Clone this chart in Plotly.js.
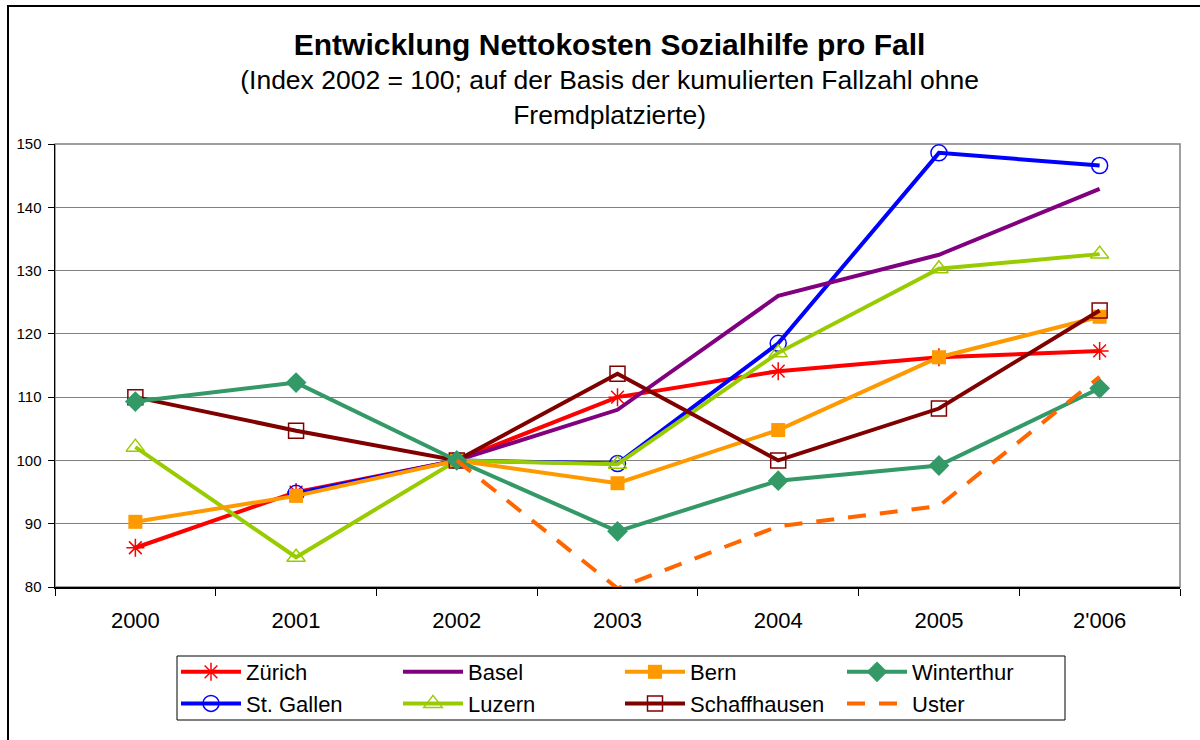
<!DOCTYPE html>
<html>
<head>
<meta charset="utf-8">
<script src="https://cdn.plot.ly/plotly-3.0.1.min.js"></script>
<style>
  html, body { margin: 0; padding: 0; background: #ffffff; }
  #chart { width: 1200px; height: 740px; }
</style>
</head>
<body>
<div id="chart"></div>
<script>
// ---- data ----
const years = ['2000', '2001', '2002', '2003', '2004', '2005', "2'006"];
const zuerich      = [86.2, 95.0, 100, 110.0, 114.1, 116.3, 117.3];
const basel        = [null, null, 100, 108.0, 126.0, 132.5, 142.9];
const bern         = [90.3, 94.4, 100, 96.4, 104.8, 116.3, 122.7];
const winterthur   = [109.3, 112.3, 100, 88.8, 96.8, 99.2, 111.4];
const stGallen     = [null, 94.8, 100, 99.5, 118.5, 148.6, 146.6];
const luzern       = [102.1, 84.7, 100, 99.4, 117.0, 130.3, 132.6];
const schaffhausen = [110.0, 104.7, 100, 113.7, 100.0, 108.2, 123.7];
const uster        = [null, null, 100, 79.8, 89.6, 92.8, 113.2];

const seriesNames = ['Zürich', 'Basel', 'Bern', 'Winterthur', 'St. Gallen', 'Luzern', 'Schaffhausen', 'Uster'];
const yTicks = [80, 90, 100, 110, 120, 130, 140, 150];

const FONT = 'Arial, "Liberation Sans", sans-serif';

function line(name, y, color, opts) {
  return Object.assign({
    type: 'scatter',
    mode: 'lines+markers',
    name: name,
    x: years,
    y: y,
    connectgaps: false,
    line: { color: color, width: 4 },
    cliponaxis: true
  }, opts);
}

const traces = [
  line(seriesNames[0], zuerich, '#FF0000', {
    legend: 'legend',
    marker: { symbol: 'asterisk-open', size: 15, color: '#FF0000', line: { color: '#FF0000', width: 1.5 } }
  }),
  line(seriesNames[4], stGallen, '#0000FF', {
    legend: 'legend',
    marker: { symbol: 'circle-open', size: 16, color: '#0000FF', line: { color: '#0000FF', width: 1.5 } }
  }),
  line(seriesNames[1], basel, '#800080', {
    legend: 'legend2',
    mode: 'lines'
  }),
  line(seriesNames[5], luzern, '#99CC00', {
    legend: 'legend2',
    marker: { symbol: 'triangle-up-open', size: 16, color: '#99CC00', line: { color: '#99CC00', width: 1.5 } }
  }),
  line(seriesNames[2], bern, '#FF9900', {
    legend: 'legend3',
    marker: { symbol: 'square', size: 14, color: '#FF9900', line: { color: '#FF9900', width: 0 } }
  }),
  line(seriesNames[6], schaffhausen, '#800000', {
    legend: 'legend3',
    marker: { symbol: 'square-open', size: 15, color: '#800000', line: { color: '#800000', width: 1.5 } }
  }),
  line(seriesNames[3], winterthur, '#339966', {
    legend: 'legend4',
    marker: { symbol: 'diamond', size: 16, color: '#339966', line: { color: '#339966', width: 0 } }
  }),
  line(seriesNames[7], uster, '#FF6600', {
    legend: 'legend4',
    mode: 'lines',
    line: { color: '#FF6600', width: 4, dash: '18px,14px' }
  })
];

// plot area in pixels: left 55, right 1180, top 144, bottom 587
const L = 55, R = 1180, T = 144, B = 587;
const PW = R - L, PH = B - T;
const px = v => (v - L) / PW;
const py = v => (B - v) / PH;

function legendAt(xText) {
  return {
    x: px(xText - 70), xanchor: 'left',
    y: py(651), yanchor: 'top',
    orientation: 'v',
    bgcolor: 'rgba(0,0,0,0)',
    borderwidth: 0,
    itemwidth: 60,
    font: { family: FONT, size: 22, color: '#000000' },
    tracegroupgap: 0,
    itemsizing: 'trace'
  };
}

const layout = {
  width: 1200,
  height: 740,
  margin: { l: L, r: 1200 - R, t: T, b: 740 - B, pad: 0 },
  paper_bgcolor: '#ffffff',
  plot_bgcolor: '#ffffff',
  font: { family: FONT, color: '#000000' },
  showlegend: true,
  title: {
    text: '<b><span style="font-size:30px">Entwicklung Nettokosten Sozialhilfe pro Fall</span></b>' +
          '<br>(Index 2002 = 100; auf der Basis der kumulierten Fallzahl ohne<br>Fremdplatzierte)',
    font: { family: FONT, size: 26.5, color: '#000000' },
    x: 0.508, xref: 'container', xanchor: 'center',
    y: 1 - 55 / 740, yref: 'container', yanchor: 'top'
  },
  xaxis: {
    type: 'category',
    categoryorder: 'array',
    categoryarray: years,
    range: [-0.5, 6.5],
    showgrid: false,
    zeroline: false,
    showline: true,
    linecolor: '#000000',
    linewidth: 1.5,
    ticks: 'outside',
    tickson: 'boundaries',
    ticklen: 7,
    tickwidth: 1,
    tickcolor: '#000000',
    ticklabelstandoff: 13,
    tickfont: { family: FONT, size: 22, color: '#000000' },
    fixedrange: true
  },
  yaxis: {
    range: [80, 150],
    tickvals: yTicks,
    ticktext: yTicks.map(String),
    showgrid: true,
    gridcolor: '#808080',
    gridwidth: 1,
    zeroline: false,
    showline: true,
    linecolor: '#000000',
    linewidth: 1.5,
    ticks: 'outside',
    ticklen: 6,
    tickwidth: 1,
    tickcolor: '#000000',
    ticklabelstandoff: 3,
    tickfont: { family: FONT, size: 15, color: '#000000' },
    fixedrange: true
  },
  legend: legendAt(246),
  legend2: legendAt(468),
  legend3: legendAt(690),
  legend4: legendAt(912),
  shapes: [
    // plot area frame (grey top/right)
    { type: 'rect', xref: 'paper', yref: 'paper', x0: 0, x1: 1, y0: 0, y1: 1,
      line: { color: '#808080', width: 1.5 }, fillcolor: 'rgba(0,0,0,0)', layer: 'below' },
    // legend box
    { type: 'rect', xref: 'paper', yref: 'paper', x0: px(177), x1: px(1065), y0: py(720), y1: py(656),
      line: { color: '#000000', width: 1 }, fillcolor: 'rgba(0,0,0,0)', layer: 'above' },
    // outer chart frame (left + top visible)
    { type: 'rect', xref: 'paper', yref: 'paper', x0: px(8), x1: px(1260), y0: py(800), y1: py(6),
      line: { color: '#000000', width: 2 }, fillcolor: 'rgba(0,0,0,0)', layer: 'above' }
  ]
};

Plotly.newPlot('chart', traces, layout, { displayModeBar: false, staticPlot: true });
</script>
</body>
</html>
